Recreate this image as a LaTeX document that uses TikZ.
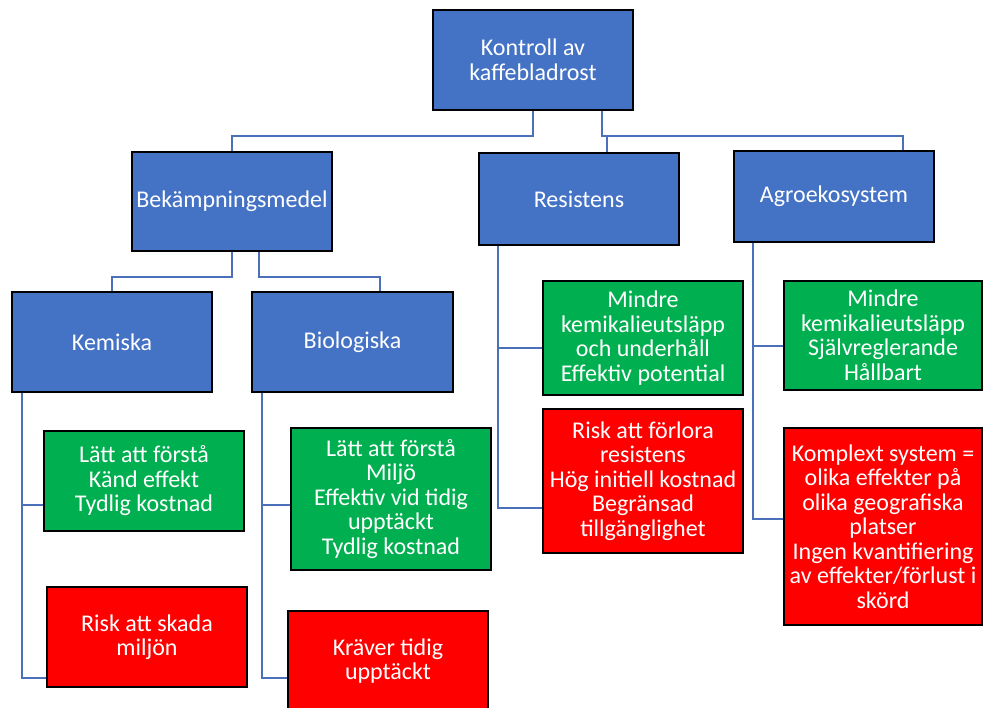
\documentclass[tikz,border=0pt]{standalone}
\usepackage{fontspec}
\setmainfont{Carlito}
\definecolor{boxblue}{HTML}{4472C4}
\definecolor{boxgreen}{HTML}{00B050}
\definecolor{boxred}{HTML}{FF0000}
\definecolor{linkblue}{HTML}{4A70BA}

\begin{document}
\begin{tikzpicture}[x=1pt, y=-1pt,
		every node/.style={font=\fontsize{24}{24.5}\selectfont, text=white, align=center, inner sep=0pt},
		topic/.style={draw=black, line width=2.5pt, fill=boxblue, minimum width=200pt},
		pro/.style={draw=black, line width=2.5pt, fill=boxgreen, minimum width=200pt},
		con/.style={draw=black, line width=2.5pt, fill=boxred, minimum width=200pt},
		link/.style={draw=linkblue, line width=2pt}]
				\useasboundingbox (0,0) rectangle (983,708);
				
				% 1. Rot och huvudgrenar
				\node[topic, minimum height=100pt] (root) at (533,60) {Kontroll av\\kaffebladrost};
				\node[topic, minimum height=99pt] (bek) at (232,201.5) {Bekämpningsmedel};
				\node[topic, minimum height=92pt] (res) at (579,199) {Resistens};
				\node[topic, minimum height=91pt] (agro) at (834,196.5) {Agroekosystem};
				
				% 2. Kemiska / biologiska medel
				\node[topic, minimum height=100pt] (kem) at (112,342) {Kemiska};
				\node[topic, minimum height=100pt, minimum width=201pt] (bio) at (352.5,342) {Biologiska};
				
				% 3. Fördelar (gröna) och nackdelar (röda)
				\node[pro, minimum height=100pt] (kempro) at (144,481) {Lätt att förstå\\Känd effekt\\Tydlig kostnad};
				\node[con, minimum height=100pt] (kemcon) at (147,637) {Risk att skada\\miljön};
				\node[pro, minimum height=142pt] (biopro) at (391,499) {Lätt att förstå\\Miljö\\Effektiv vid tidig\\upptäckt\\Tydlig kostnad};
				\node[con, minimum height=100pt] (biocon) at (388,661) {Kräver tidig\\upptäckt};
				\node[pro, minimum height=114pt] (respro) at (643,338) {Mindre\\kemikalieutsläpp\\och underhåll\\Effektiv potential};
				\node[con, minimum height=144pt] (rescon) at (643,481) {Risk att förlora\\resistens\\Hög initiell kostnad\\Begränsad\\tillgänglighet};
				\node[pro, minimum height=109pt, minimum width=198pt] (agropro) at (883,335.5) {Mindre\\kemikalieutsläpp\\Självreglerande\\Hållbart};
				\node[con, minimum height=197pt, minimum width=198pt] (agrocon) at (883,526.5) {Komplext system =\\olika effekter på\\olika geografiska\\platser\\Ingen kvantifiering\\av effekter/förlust i\\skörd};
				
				% 4. Förbindelser (vinklade linjer)
				\draw[link] (root.south) -- ++(0,25) -| (bek.north);
				\draw[link] ([xshift=69pt]root.south) -- ++(0,25) -| ([xshift=28pt]res.north);
				\draw[link] ([xshift=69pt]root.south) -- ++(0,25) -| ([xshift=69pt]agro.north);
				\draw[link] (bek.south) -- ++(0,25) -| (kem.north);
				\draw[link] ([xshift=27pt]bek.south) -- ++(0,25) -| ([xshift=27.5pt]bio.north);
				\draw[link] ([xshift=11pt]kem.south west) |- ([yshift=-24pt]kempro.west);
				\draw[link] ([xshift=11pt]kem.south west) |- ([yshift=-41pt]kemcon.west);
				\draw[link] ([xshift=11pt]bio.south west) |- ([yshift=-6pt]biopro.west);
				\draw[link] ([xshift=11pt]bio.south west) |- ([yshift=-17pt]biocon.west);
				\draw[link] ([xshift=20pt]res.south west) |- ([yshift=-10pt]respro.west);
				\draw[link] ([xshift=20pt]res.south west) |- ([yshift=-27pt]rescon.west);
				\draw[link] ([xshift=20pt]agro.south west) |- ([yshift=-10.5pt]agropro.west);
				\draw[link] ([xshift=20pt]agro.south west) |- ([yshift=7.5pt]agrocon.west);
			\end{tikzpicture}
\end{document}
